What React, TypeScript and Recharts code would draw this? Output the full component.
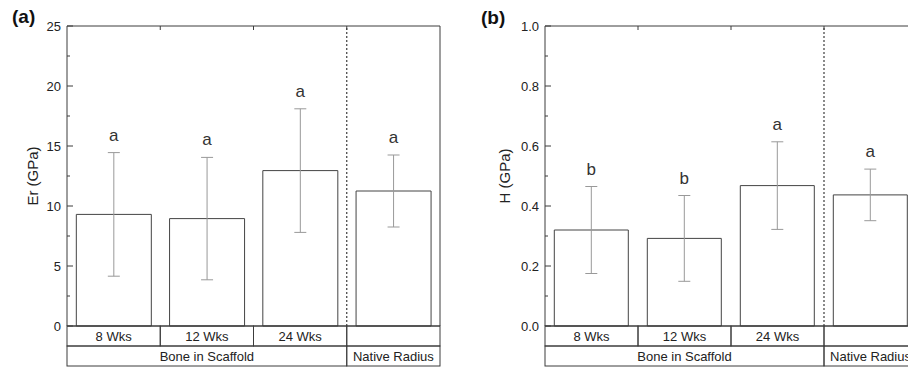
import React from 'react';
import { BarChart, Bar, XAxis, YAxis, ErrorBar, LabelList, ReferenceLine } from 'recharts';

const categories = ['8 Wks', '12 Wks', '24 Wks', 'Native'];
const rowLabels = ['8 Wks', '12 Wks', '24 Wks', ''];
const groupLabels = ['Bone in Scaffold', 'Native Radius'];
const groupStarts = [0, 3];
const groupSpans = [3, 1];

const erMean = [9.3, 8.95, 12.95, 11.25];
const erErr = [5.15, 5.1, 5.15, 3.0];
const erLetters = ['a', 'a', 'a', 'a'];
const erTicks = [0, 2.5, 5, 7.5, 10, 12.5, 15, 17.5, 20, 22.5, 25];
const erMajor = [0, 5, 10, 15, 20, 25];

const hMean = [0.32, 0.292, 0.468, 0.437];
const hErr = [0.145, 0.143, 0.146, 0.086];
const hLetters = ['b', 'b', 'a', 'a'];
const hTicks = [0, 0.1, 0.2, 0.3, 0.4, 0.5, 0.6, 0.7, 0.8, 0.9, 1.0];
const hMajor = [0, 0.2, 0.4, 0.6, 0.8, 1.0];

const FONT = '"Liberation Sans", Arial, Helvetica, sans-serif';
const LINE = '#3c3c3c';
const TEXT = '#222';

type PanelProps = {
  mean: number[];
  err: number[];
  letters: string[];
  ticks: number[];
  major: number[];
  domain: [number, number];
  fmt: (v: number) => string;
  ylabel: string;
  ylabelX: number;
  width: number;
  yAxisWidth: number;
  marginRight: number;
};

function Panel(p: PanelProps) {
  const data = categories.map((c, i) => ({ id: c, mean: p.mean[i], err: p.err[i], letter: p.letters[i] }));
  const H = 371;
  const top = 26;
  const axisH = 45;
  const plotH = H - top - axisH;
  const plotW = p.width - p.yAxisWidth - p.marginRight;
  const bw = plotW / categories.length;
  const rowH = 20;

  const bottomTick = (t: any) => {
    const { x, y, index } = t;
    const left = x - bw / 2;
    const gi = groupStarts.indexOf(index);
    return (
      <g>
        {index < categories.length - 1 && (
          <line x1={x + bw / 2} x2={x + bw / 2} y1={y - plotH} y2={y - plotH + 4} stroke={LINE} strokeWidth={1} />
        )}
        <rect x={left} y={y} width={bw} height={rowH} fill="none" stroke={LINE} strokeWidth={1} />
        <text x={x} y={y + rowH / 2} textAnchor="middle" dominantBaseline="central" fontSize={13} fontFamily={FONT} fill={TEXT}>
          {rowLabels[index]}
        </text>
        {gi >= 0 && (
          <g>
            <rect x={left} y={y + rowH} width={bw * groupSpans[gi]} height={rowH} fill="none" stroke={LINE} strokeWidth={1} />
            <text x={left + (bw * groupSpans[gi]) / 2} y={y + rowH * 1.5} textAnchor="middle" dominantBaseline="central" fontSize={13} fontFamily={FONT} fill={TEXT}>
              {groupLabels[gi]}
            </text>
          </g>
        )}
      </g>
    );
  };

  const leftTick = (t: any) => {
    const { x, y, payload } = t;
    const v = payload.value;
    const isMajor = p.major.some((m) => Math.abs(m - v) < 1e-9);
    return (
      <g>
        <line x1={x} x2={x + (isMajor ? 6 : 3)} y1={y} y2={y} stroke={LINE} strokeWidth={1} />
        {isMajor && (
          <text x={x - 6} y={y} textAnchor="end" dominantBaseline="central" fontSize={13} fontFamily={FONT} fill={TEXT}>
            {p.fmt(v)}
          </text>
        )}
      </g>
    );
  };

  const letterContent = (lp: any) => {
    const { x, y, width, height, index, value } = lp;
    const v = p.mean[index];
    const pxPer = height / v;
    const errTop = y - p.err[index] * pxPer;
    return (
      <text x={x + width / 2} y={errTop - 12} textAnchor="middle" fontSize={17} fontFamily={FONT} fill="#333">
        {value}
      </text>
    );
  };

  const ylabelContent = (lp: any) => {
    const vb = lp.viewBox || { x: 0, y: top, width: p.yAxisWidth, height: plotH };
    const cy = vb.y + vb.height / 2;
    return (
      <text x={p.ylabelX} y={cy} transform={`rotate(-90 ${p.ylabelX} ${cy})`} textAnchor="middle" dominantBaseline="central" fontSize={15} fontFamily={FONT} fill={TEXT}>
        {p.ylabel}
      </text>
    );
  };

  return (
    <BarChart width={p.width} height={H} data={data} margin={{ top, right: p.marginRight, bottom: 0, left: 0 }} barCategoryGap="10%">
      <XAxis dataKey="id" height={axisH} interval={0} tickSize={0} tickMargin={0} tickLine={false} axisLine={{ stroke: LINE }} tick={bottomTick} />
      <YAxis
        width={p.yAxisWidth}
        domain={p.domain}
        ticks={p.ticks}
        interval={0}
        tickSize={0}
        tickMargin={0}
        tickLine={false}
        axisLine={{ stroke: LINE }}
        tick={leftTick}
        label={{ content: ylabelContent }}
      />
      <ReferenceLine y={p.domain[1]} stroke={LINE} strokeWidth={1} ifOverflow="visible" />
      <ReferenceLine x="Native" position="start" stroke={LINE} strokeWidth={1.2} strokeDasharray="2 2" />
      <ReferenceLine x="Native" position="end" stroke={LINE} strokeWidth={1} />
      <Bar dataKey="mean" fill="#fff" stroke="#444" strokeWidth={1} isAnimationActive={false}>
        <ErrorBar dataKey="err" width={6} stroke="#999" strokeWidth={1} direction="y" isAnimationActive={false} />
        <LabelList dataKey="letter" content={letterContent} />
      </Bar>
    </BarChart>
  );
}

export default function App() {
  return (
    <div style={{ position: 'absolute', left: 0, top: 0, width: 908, height: 371, overflow: 'hidden', background: '#fff' }}>
      <div style={{ position: 'absolute', left: 0, top: 0 }}>
        <Panel
          mean={erMean}
          err={erErr}
          letters={erLetters}
          ticks={erTicks}
          major={erMajor}
          domain={[0, 25]}
          fmt={(v) => String(v)}
          ylabel="Er (GPa)"
          ylabelX={32}
          width={454}
          yAxisWidth={67}
          marginRight={14}
        />
      </div>
      <div style={{ position: 'absolute', left: 454, top: 0 }}>
        <Panel
          mean={hMean}
          err={hErr}
          letters={hLetters}
          ticks={hTicks}
          major={hMajor}
          domain={[0, 1]}
          fmt={(v) => v.toFixed(1)}
          ylabel="H (GPa)"
          ylabelX={50}
          width={475}
          yAxisWidth={91}
          marginRight={12}
        />
      </div>
      <div style={{ position: 'absolute', left: 12, top: 6, fontFamily: FONT, fontWeight: 'bold', fontSize: 19, color: '#111', lineHeight: '22px' }}>(a)</div>
      <div style={{ position: 'absolute', left: 481, top: 7, fontFamily: FONT, fontWeight: 'bold', fontSize: 19, color: '#111', lineHeight: '22px' }}>(b)</div>
    </div>
  );
}
